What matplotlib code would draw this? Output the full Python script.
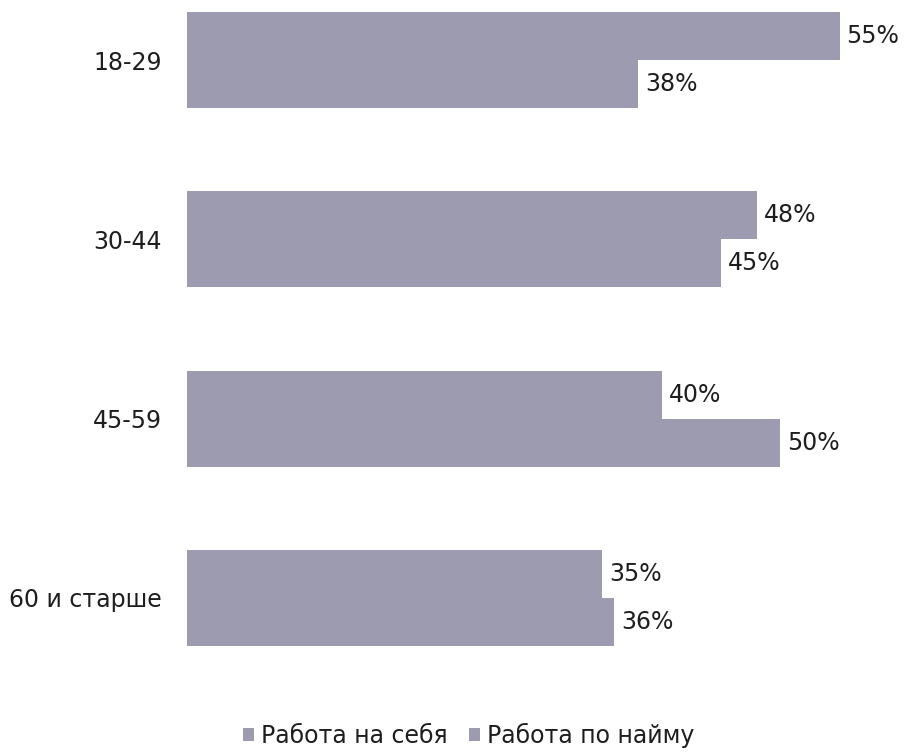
import matplotlib.pyplot as plt
import numpy as np

# age groups and shares (%)
groups = ['18-29', '30-44', '45-59', '60 и старше']
self_employed = [55, 48, 40, 35]
hired = [38, 45, 50, 36]
series_names = ['Работа на себя', 'Работа по найму']

bar_color = '#9d9baf'
text_color = '#1e1e1e'

fig = plt.figure(figsize=(9.12, 7.54), dpi=100)
ax = fig.add_axes([187 / 912, 1 - 690 / 754, (912 - 187) / 912, 690 / 754])

y = np.arange(len(groups))
h = 0.268
b1 = ax.barh(y - h / 2, self_employed, height=h, color=bar_color, label=series_names[0])
b2 = ax.barh(y + h / 2, hired, height=h, color=bar_color, label=series_names[1])

# value labels next to the bars
for bars, vals in ((b1, self_employed), (b2, hired)):
    for bar, v in zip(bars, vals):
        ax.annotate(f'{v}%', (bar.get_width(), bar.get_y() + bar.get_height() / 2),
                    xytext=(5, 0), textcoords='offset points',
                    va='center', ha='left', fontsize=17, color=text_color)

ax.set_xlim(0, 61.1)
ax.set_ylim(3.514, -0.335)
ax.set_yticks(y)
ax.set_yticklabels(groups, fontsize=17, color=text_color)
ax.tick_params(axis='y', length=0, pad=18)
ax.set_xticks([])
for s in ax.spines.values():
    s.set_visible(False)

fig.legend(handles=[b1, b2], labels=series_names, loc='center', bbox_to_anchor=(0.514, 0.025),
           ncol=2, frameon=False, fontsize=17, handlelength=0.45, handleheight=0.45,
           handletextpad=0.3, columnspacing=0.9, labelcolor=text_color)

fig.savefig('out.png', dpi=100)
